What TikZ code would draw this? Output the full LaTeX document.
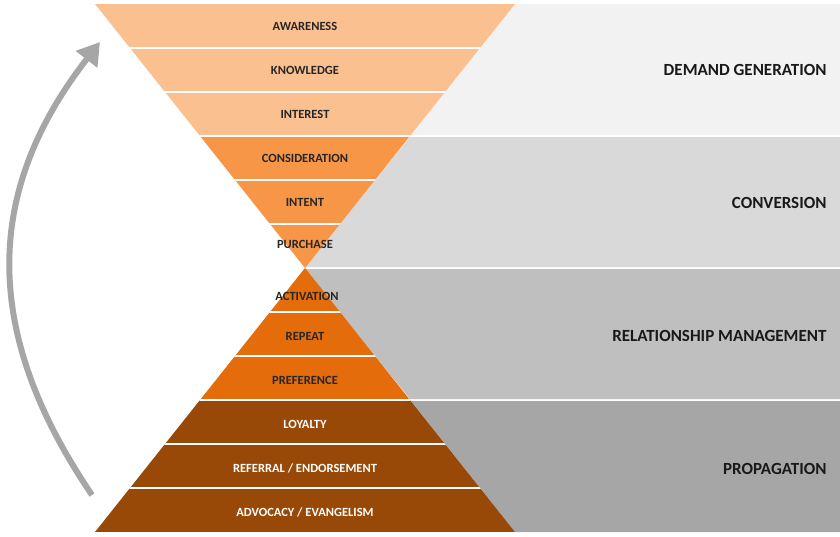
\documentclass[tikz,border=0pt]{standalone}
\usepackage{fontspec}
\setmainfont{Carlito}
\usepackage{tikz}
\usetikzlibrary{arrows.meta}

\definecolor{paleorange}{HTML}{FAC090}
\definecolor{midorange}{HTML}{F79646}
\definecolor{darkorange}{HTML}{E46C0A}
\definecolor{brownorange}{HTML}{984807}

\begin{document}
\begin{tikzpicture}[x=1pt, y=-1pt,
  bandlabel/.style={font=\bfseries\fontsize{12.5}{14}\selectfont, text=black!85},
  phaselabel/.style={font=\bfseries\fontsize{17}{19}\selectfont, anchor=east, text=black!90}]
  \useasboundingbox (0,0) rectangle (840,536);

  % Right-hand phase panels
  \fill[black!5]  (515,4) -- (840,4) -- (840,135) -- (411,135) -- cycle;
  \fill[black!15] (410,137) -- (840,137) -- (840,267) -- (305,267) -- cycle;
  \fill[black!25] (305,269) -- (840,269) -- (840,399) -- (410,399) -- cycle;
  \fill[black!35] (411,401) -- (840,401) -- (840,532) -- (515,532) -- cycle;

  % Funnel bands (upper, inverted)
  \begin{scope}
    \clip (95,4) -- (515,4) -- (305,268) -- cycle;
    \foreach \y/\col in {4/paleorange, 48/paleorange, 92/paleorange,
                         136/midorange, 180/midorange, 224/midorange}
      \fill[\col] (90,\y) rectangle (520,\y+44);
    \foreach \y in {48, 92, 136, 180, 224}
      \draw[white, line width=2pt] (90,\y) -- (520,\y);
  \end{scope}

  % Funnel bands (lower, pyramid)
  \begin{scope}
    \clip (305,268) -- (515,532) -- (95,532) -- cycle;
    \foreach \y/\col in {268/darkorange, 312/darkorange, 356/darkorange,
                         400/brownorange, 444/brownorange, 488/brownorange}
      \fill[\col] (90,\y) rectangle (520,\y+44);
    \foreach \y in {312, 356, 400, 444, 488}
      \draw[white, line width=2pt] (90,\y) -- (520,\y);
  \end{scope}

  % Band labels
  \node[bandlabel] (awareness)     at (305,26)  {AWARENESS};
  \node[bandlabel] (knowledge)     at (305,70)  {KNOWLEDGE};
  \node[bandlabel] (interest)      at (305,114) {INTEREST};
  \node[bandlabel] (consideration) at (305,158) {CONSIDERATION};
  \node[bandlabel] (intent)        at (305,202) {INTENT};
  \node[bandlabel] (purchase)      at (305,244) {PURCHASE};
  \node[bandlabel] (activation)    at (307,296) {ACTIVATION};
  \node[bandlabel] (repeat)        at (305,336) {REPEAT};
  \node[bandlabel] (preference)    at (305,380) {PREFERENCE};
  \node[bandlabel, text=white] (loyalty)  at (305,424) {LOYALTY};
  \node[bandlabel, text=white] (referral) at (305,468) {REFERRAL / ENDORSEMENT};
  \node[bandlabel, text=white] (advocacy) at (305,512) {ADVOCACY / EVANGELISM};

  % Phase labels
  \node[phaselabel] (demand)       at (830,70)  {DEMAND GENERATION};
  \node[phaselabel] (conversion)   at (830,203) {CONVERSION};
  \node[phaselabel] (relationship) at (830,336) {RELATIONSHIP MANAGEMENT};
  \node[phaselabel] (propagation)  at (830,469) {PROPAGATION};

  % Lifecycle arrow
  \coordinate (arrowstart) at (92,495);
  \coordinate (arrowend)   at (100,42);
  \draw[black!35, line width=6pt, -{Triangle[length=22pt, width=26pt]}]
    (arrowstart) .. controls (-20,330) and (-15,190) .. (arrowend);
\end{tikzpicture}
\end{document}
